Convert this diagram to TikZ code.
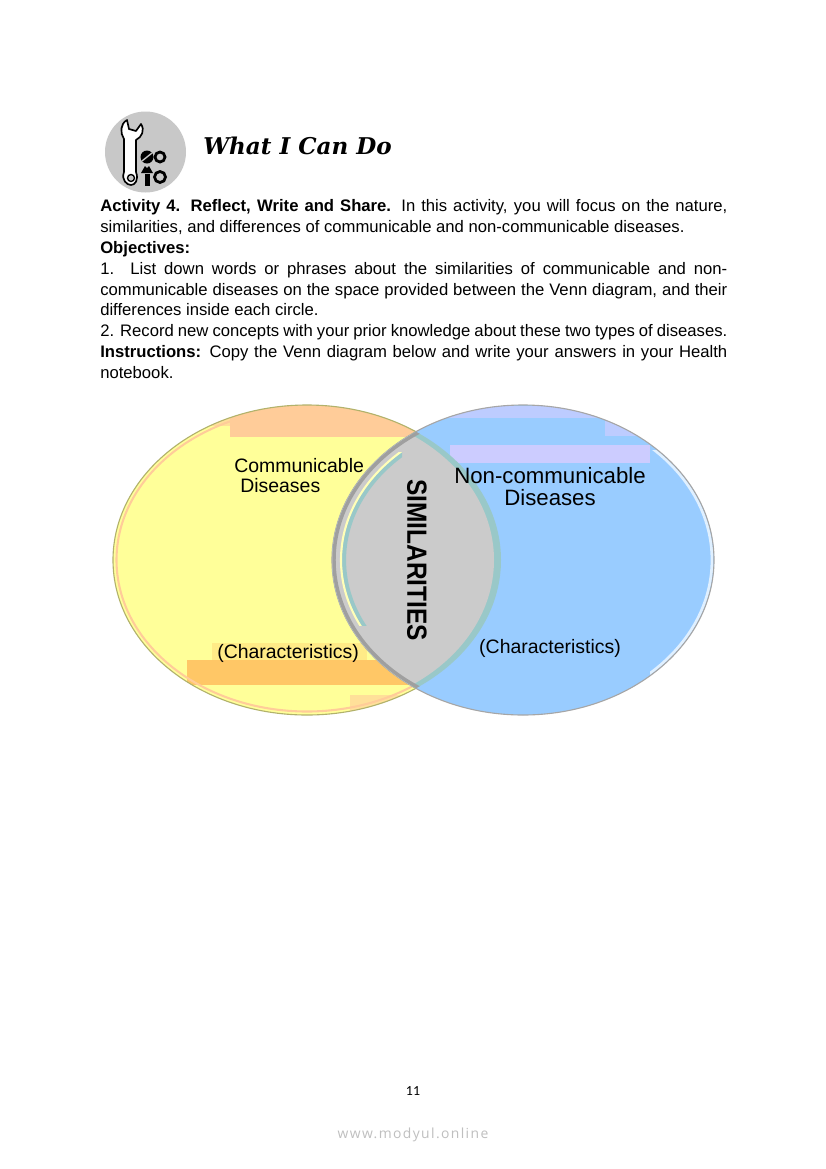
\documentclass[tikz,border=0pt]{standalone}
\usepackage{fontspec}
\setmainfont{Liberation Sans}
\newfontfamily\titlefont{DejaVu Serif}
\newfontfamily\pagefont{Carlito}
\newfontfamily\markfont[LetterSpace=10]{Open Sans}

\definecolor{lefty}{HTML}{FFFF99}
\definecolor{leftband}{HTML}{FFCC99}
\definecolor{leftlow}{HTML}{FFC766}
\definecolor{righty}{HTML}{99CCFF}
\definecolor{rightband}{HTML}{CCCCFF}
\definecolor{lens}{HTML}{CBCBCB}
\definecolor{fringe}{HTML}{99C8C8}
\definecolor{icongray}{HTML}{C8C8C8}

\newcommand{\leftdisc}{(307,560) ellipse [x radius=194, y radius=155]}
\newcommand{\rightdisc}{(523,560) ellipse [x radius=191, y radius=155]}

\tikzset{
	para/.style={anchor=north west, inner sep=0pt, text width=451.5pt, align=justify, font=\fontsize{12}{14.9}\selectfont},
	venn/.style={inner sep=0pt, align=center, font=\fontsize{14}{16.5}\selectfont},
	nut/.style={draw=black, fill=icongray, line width=2pt},
}

\begin{document}
\begin{tikzpicture}[x=0.72pt, y=-0.72pt]
	\useasboundingbox (0,0) rectangle (826,1169);
	\fill[white] (0,0) rectangle (826,1169);

	% icon
	\fill[icongray] (145.5,152) circle (40.5);
	\draw[fill=white, line width=1.2pt, line join=round]
	(124,172) -- (124,139) .. controls (120,133) and (120,124) .. (127,120)
	-- (129,129) -- (136,131) -- (141,124) .. controls (145,130) and (142,137) .. (136,140)
	-- (136,172) .. controls (139,180) and (135,185) .. (131,185)
	.. controls (127,185) and (121,180) .. (124,172) -- cycle;
	\draw[fill=icongray, line width=1pt] (131,178) circle (3.5);
	\fill[black] (147,157) circle (6.5);
	\draw[icongray, line width=1pt] (142,161) -- (152,153);
	\draw[nut] (160,157) circle (5);
	\fill[black] (141,173) -- (145,166) -- (147,168) -- (149,166) -- (153,173) -- cycle;
	\fill[black] (144.5,174) rectangle (150,186);
	\draw[nut] (160,177) circle (5.5);

	\node[anchor=west, inner sep=0pt, font=\titlefont\bfseries\itshape\fontsize{16.6}{20}\selectfont] (title) at (203,146) {What I Can Do};

	% text
	\node[para] (intro) at (100,199) {\textbf{Activity 4. Reflect, Write and Share.} In this activity, you will focus on the nature, similarities, and differences of communicable and non-communicable diseases.};
	\node[para] (objectives) at (100,241) {\textbf{Objectives:}};
	\node[para] (first) at (100,262) {1. List down words or phrases about the similarities of communicable and non-communicable diseases on the space provided between the Venn diagram, and their differences inside each circle.};
	\node[para] (second) at (100,324) {2. Record new concepts with your prior knowledge about these two types of diseases.};
	\node[para] (instructions) at (100,345) {\textbf{Instructions:} Copy the Venn diagram below and write your answers in your Health notebook.};

	% left circle
	\fill[lefty] \leftdisc;
	\begin{scope}
		\clip \leftdisc;
		\fill[leftband] (230,400) rectangle (520,437);
		\fill[leftband!60!lefty] (170,400) rectangle (230,426);
		\fill[leftlow!35!lefty] (212,643) rectangle (367,660);
		\fill[leftlow] (187,660) rectangle (420,685);
		\fill[leftband!60!lefty] (350,695) rectangle (420,720);
	\end{scope}
	\draw[leftband, line width=1.5pt] (307,560) ellipse [x radius=190.5, y radius=151.5];
	\draw[black!30!lefty, line width=0.8pt] \leftdisc;

	% right circle
	\fill[righty] \rightdisc;
	\begin{scope}
		\clip \rightdisc;
		\fill[rightband] (450,445) rectangle (650,463);
		\fill[rightband!70!righty] (440,406) rectangle (620,418);
		\fill[rightband!70!righty] (605,418) rectangle (660,436);
	\end{scope}
	\begin{scope}
		\clip (650,450) rectangle (720,680);
		\draw[white!70!righty, line width=2pt] (523,560) ellipse [x radius=189, y radius=153];
	\end{scope}
	\draw[gray!70, line width=0.8pt] \rightdisc;

	% overlap
	\begin{scope}
		\clip \rightdisc;
		\fill[fringe] \leftdisc;
		\fill[lens] (307,560) ellipse [x radius=187, y radius=151];
	\end{scope}
	\begin{scope}
		\clip \leftdisc;
		\begin{scope}
			\clip (330,452) rectangle (402,625);
			\draw[fringe, line width=3pt] (523,560) ellipse [x radius=179, y radius=143];
			\draw[lefty!70!white, line width=1.5pt] (523,560) ellipse [x radius=182, y radius=146];
		\end{scope}
		\draw[gray!75, line width=2.5pt] (523,560) ellipse [x radius=189, y radius=153];
	\end{scope}

	\node[venn, anchor=west] (commA) at (234,466) {Communicable};
	\node[venn, anchor=west] (commB) at (240,486) {Diseases};
	\node[venn, anchor=west] (charA) at (217,653) {(Characteristics)};
	\node[venn, font=\fontsize{16}{15.8}\selectfont] (noncomm) at (550,487) {Non-communicable\\Diseases};
	\node[venn] (charB) at (550,648) {(Characteristics)};
	\node[venn, rotate=-90, xscale=0.88, font=\bfseries\fontsize{20}{22}\selectfont] (similar) at (417,560) {SIMILARITIES};

	\node[inner sep=0pt, font=\pagefont\fontsize{10}{12}\selectfont] (pagenum) at (413,1091) {11};
	\node[inner sep=0pt, text=black!25, font=\markfont\fontsize{10}{13}\selectfont] (mark) at (413,1135) {www.modyul.online};
\end{tikzpicture}
\end{document}
